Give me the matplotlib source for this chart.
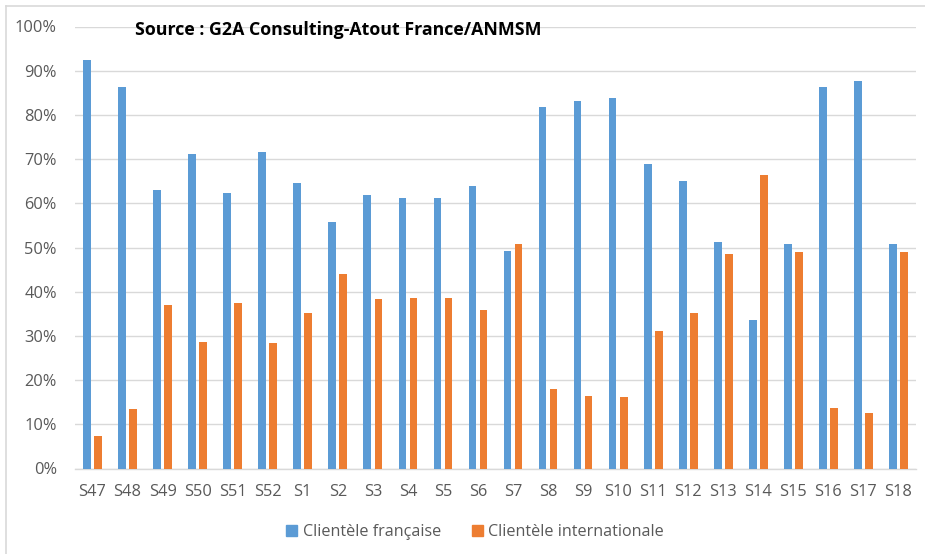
import numpy as np
import matplotlib
matplotlib.use("Agg")
from matplotlib import pyplot as plt
from matplotlib.patches import Patch
from matplotlib.ticker import PercentFormatter

weeks = ["S47", "S48", "S49", "S50", "S51", "S52", "S1", "S2", "S3", "S4", "S5", "S6",
         "S7", "S8", "S9", "S10", "S11", "S12", "S13", "S14", "S15", "S16", "S17", "S18"]
francaise = [92.5, 86.3, 63.0, 71.2, 62.3, 71.6, 64.7, 55.8, 61.9, 61.2, 61.2, 64.0,
             49.2, 81.9, 83.2, 83.9, 68.8, 65.1, 51.2, 33.7, 50.9, 86.3, 87.7, 50.9]
internationale = [7.3, 13.4, 36.9, 28.6, 37.5, 28.3, 35.1, 44.0, 38.3, 38.6, 38.6, 35.8,
                  50.9, 18.0, 16.5, 16.2, 31.0, 35.1, 48.5, 66.4, 48.9, 13.8, 12.5, 48.9]

BLUE = "#5B9BD5"
ORANGE = "#ED7D31"
GRID = "#d9d9d9"
TXT = "#595959"

plt.rcParams["font.family"] = ["Open Sans", "DejaVu Sans"]

fig = plt.figure(figsize=(9.25, 5.54), dpi=100)
ax = fig.add_axes([75 / 925, 85.5 / 554, 841 / 925, 442 / 554])

x = np.arange(len(weeks))
w = 0.22
off = 0.157
ax.bar(x - off, francaise, w, color=BLUE, zorder=3)
ax.bar(x + off, internationale, w, color=ORANGE, zorder=3)

ax.set_xlim(-0.5, len(weeks) - 0.5)
ax.set_ylim(0, 100)
ax.set_yticks(np.arange(0, 101, 10))
ax.yaxis.set_major_formatter(PercentFormatter(decimals=0))
ax.set_xticks(x)
ax.set_xticklabels(weeks)

ax.grid(axis="y", color=GRID, linewidth=1, zorder=0)
for s in ["top", "right", "left"]:
    ax.spines[s].set_visible(False)
ax.spines["bottom"].set_color(GRID)
ax.spines["bottom"].set_linewidth(1)
ax.tick_params(axis="both", length=0, labelsize=11.8, labelcolor=TXT)
ax.tick_params(axis="y", pad=13)
ax.tick_params(axis="x", pad=11)

fig.text(135 / 925, 1 - 30 / 554, "Source : G2A Consulting-Atout France/ANMSM",
         fontsize=12.8, fontweight="bold", color="black", ha="left", va="center")

handles = [Patch(color=BLUE, label="Clientèle française"),
           Patch(color=ORANGE, label="Clientèle internationale")]
leg = fig.legend(handles=handles, loc="center", bbox_to_anchor=(475 / 925, 1 - 532 / 554),
                 ncol=2, frameon=False, fontsize=11.6, handlelength=0.7, handleheight=0.7,
                 handletextpad=0.35, columnspacing=1.9)
for t in leg.get_texts():
    t.set_color(TXT)

# chart area border (left and top visible)
fig.add_artist(plt.Line2D([5.5 / 925, 5.5 / 925], [0, 1 - 5.5 / 554], color=GRID, linewidth=1.2,
                          transform=fig.transFigure))
fig.add_artist(plt.Line2D([5.5 / 925, 1], [1 - 5.5 / 554, 1 - 5.5 / 554], color=GRID, linewidth=1.2,
                          transform=fig.transFigure))

fig.savefig("out.png", dpi=100)
